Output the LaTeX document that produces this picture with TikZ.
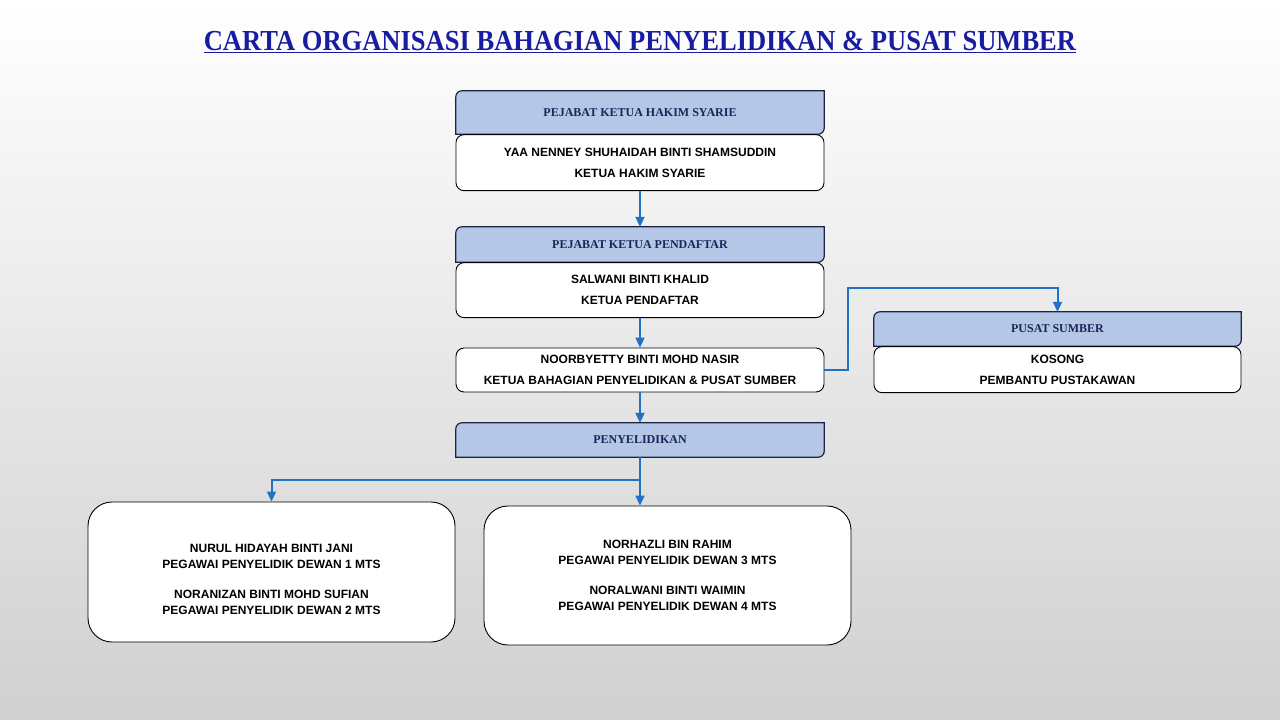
\documentclass[tikz,border=0pt]{standalone}
\usepackage{fontspec}
\setmainfont{Liberation Serif}
\setsansfont{Liberation Sans}
\newfontfamily\titlefont[FakeStretch=0.915]{Liberation Serif}
\usetikzlibrary{positioning,arrows.meta,backgrounds}

\definecolor{titleblue}{RGB}{24,28,160}
\definecolor{hdrfill}{RGB}{180,199,231}
\definecolor{hdrline}{RGB}{28,36,66}
\definecolor{hdrtext}{RGB}{30,36,88}
\definecolor{linkblue}{RGB}{31,114,196}
\definecolor{bgbottom}{RGB}{208,208,208}
\definecolor{bgmiddle}{RGB}{246,246,246}

\tikzset{
	hdr/.style={minimum width=368pt, minimum height=35pt, inner sep=0pt,
		font=\rmfamily\bfseries\fontsize{12}{14}\selectfont, text=hdrtext},
	hdrshape/.style={fill=hdrfill, draw=hdrline, line width=1.2pt},
	namebox/.style={draw=black, fill=white, rounded corners=8pt, line width=0.9pt,
		minimum width=368pt, inner sep=0pt, align=center,
		font=\sffamily\bfseries\fontsize{12}{21}\selectfont},
	bigbox/.style={namebox, rounded corners=24pt, minimum width=367pt,
		font=\sffamily\bfseries\fontsize{12}{16}\selectfont},
	link/.style={draw=linkblue, line width=2pt, -{Triangle[length=10pt,width=9pt]}}
}

\begin{document}
\begin{tikzpicture}[x=1pt,y=-1pt]
	\useasboundingbox (0,0) rectangle (1280,720);
	
	% title
	\node[font=\titlefont\bfseries\fontsize{29}{34}\selectfont, text=titleblue] (title) at (640,42)
	{\underline{CARTA ORGANISASI BAHAGIAN PENYELIDIKAN \& PUSAT SUMBER}};
	
	% main column
	\node[hdr, minimum height=43pt] (hakimhdr) at (640,112.5) {PEJABAT KETUA HAKIM SYARIE};
	\node[namebox, minimum height=56pt, below=0pt of hakimhdr] (hakim)
	{YAA NENNEY SHUHAIDAH BINTI SHAMSUDDIN\\KETUA HAKIM SYARIE};
	
	\node[hdr] (daftarhdr) at (640,244.5) {PEJABAT KETUA PENDAFTAR};
	\node[namebox, minimum height=55pt, below=0pt of daftarhdr] (daftar)
	{SALWANI BINTI KHALID\\KETUA PENDAFTAR};
	
	\node[namebox, minimum height=44pt] (ketua) at (640,370)
	{NOORBYETTY BINTI MOHD NASIR\\KETUA BAHAGIAN PENYELIDIKAN \& PUSAT SUMBER};
	
	\node[hdr, minimum height=34pt] (selidikhdr) at (640,440) {PENYELIDIKAN};
	
	% pusat sumber
	\node[hdr, minimum width=367pt, minimum height=34pt] (sumberhdr) at (1057.5,329) {PUSAT SUMBER};
	\node[namebox, minimum width=367pt, minimum height=46pt, below=0pt of sumberhdr] (sumber)
	{KOSONG\\PEMBANTU PUSTAKAWAN};
	
	% pegawai penyelidik
	\node[bigbox, minimum height=140pt] (pegawaiA) at (271.5,572)
	{\mbox{}\\[7pt]NURUL HIDAYAH BINTI JANI\\PEGAWAI PENYELIDIK DEWAN 1 MTS\\[14pt]
		NORANIZAN BINTI MOHD SUFIAN\\PEGAWAI PENYELIDIK DEWAN 2 MTS};
	\node[bigbox, minimum height=139pt] (pegawaiB) at (667.5,575.5)
	{NORHAZLI BIN RAHIM\\PEGAWAI PENYELIDIK DEWAN 3 MTS\\[14pt]
		NORALWANI BINTI WAIMIN\\PEGAWAI PENYELIDIK DEWAN 4 MTS};
	
	% background and header shapes
	\begin{scope}[on background layer]
		\shade[top color=white, middle color=bgmiddle, bottom color=bgbottom] (0,0) rectangle (1280,720);
		\foreach \h in {hakimhdr,daftarhdr,selidikhdr,sumberhdr}
		\filldraw[hdrshape] (\h.south west) -- ([yshift=-6pt]\h.north west)
		arc[start angle=180, end angle=90, radius=6pt] -- (\h.north east)
		-- ([yshift=6pt]\h.south east) arc[start angle=0, end angle=-90, radius=6pt] -- cycle;
	\end{scope}
	
	% links
	\draw[link] (hakim) -- (daftarhdr);
	\draw[link] (daftar) -- (ketua);
	\draw[link] (ketua) -- (selidikhdr);
	\draw[link] (ketua.east) -- ++(24,0) |- ([yshift=24pt]sumberhdr.north) -- (sumberhdr.north);
	\draw[link] (selidikhdr.south) -- (selidikhdr.south |- pegawaiB.north);
	\draw[link] (selidikhdr.south) -- ++(0,23) -| (pegawaiA.north);
	
\end{tikzpicture}
\end{document}
